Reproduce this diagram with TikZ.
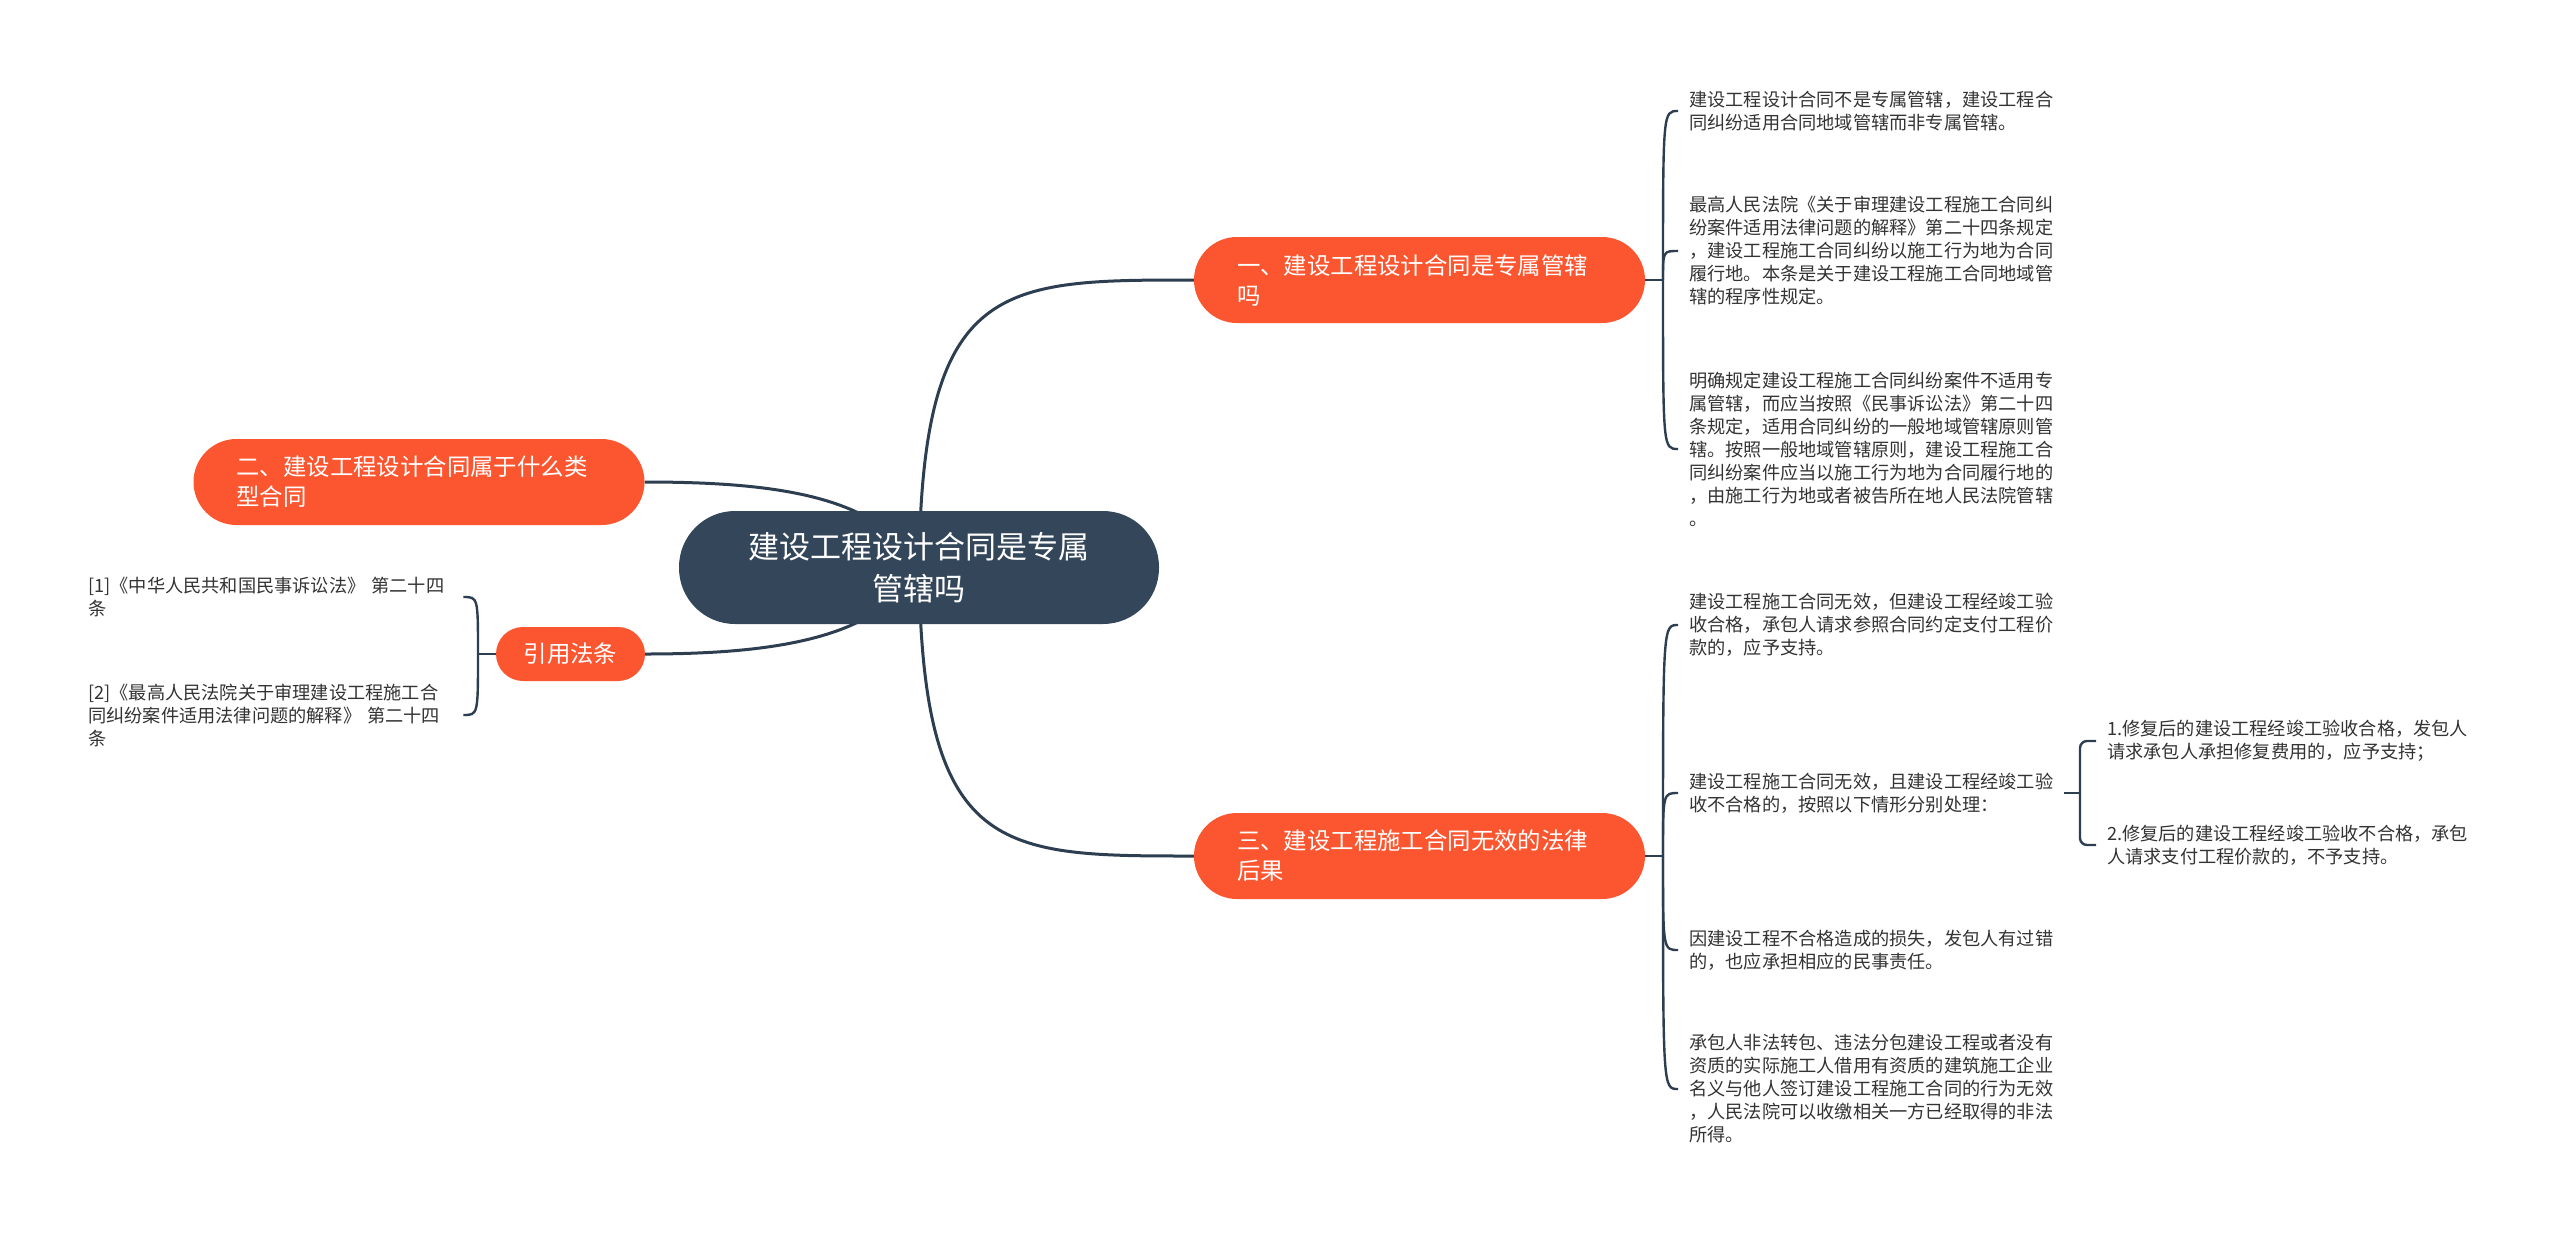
\documentclass[tikz,border=0pt]{standalone}
\usepackage{fontspec}
\setmainfont{Noto Sans CJK SC}
\definecolor{orn}{HTML}{FC5630}
\definecolor{dk}{HTML}{34475A}
\definecolor{ln}{HTML}{2C3E50}
\definecolor{tx}{HTML}{333333}
\pgfdeclarelayer{bg}
\pgfsetlayers{bg,main}
\begin{document}
\begin{tikzpicture}[x=1pt,y=-1pt,
  topic/.style={fill=orn, text=white, rounded corners=43pt, minimum height=86pt,
    text width=365pt, inner xsep=43pt, inner ysep=0pt, align=left,
    font=\fontsize{23.4}{30}\selectfont},
  rootnode/.style={fill=dk, text=white, rounded corners=56pt, minimum width=480pt,
    minimum height=113pt, align=center, font=\fontsize{31}{42}\selectfont},
  citenode/.style={fill=orn, text=white, rounded corners=27pt, minimum width=149pt,
    minimum height=54pt, inner sep=0pt, font=\fontsize{23.4}{30}\selectfont},
  leaf/.style={anchor=west, inner xsep=11pt, inner ysep=0pt, align=left, text=tx,
    font=\fontsize{18.2}{23}\selectfont},
  mainline/.style={draw=ln, line width=3pt},
  leafline/.style={draw=ln, line width=2.4pt}
]
\begin{pgfonlayer}{bg}
\fill[white] (0,0) rectangle (2560,1235);
\end{pgfonlayer}

\node[rootnode] (c) at (919,567.5) {建设工程设计合同是专属\\管辖吗};
\node[topic] (n1) at (1419.5,280) {一、建设工程设计合同是专属管辖\\吗};
\node[topic] (n2) at (419,482) {二、建设工程设计合同属于什么类\\型合同};
\node[topic] (n3) at (1419.5,856) {三、建设工程施工合同无效的法律\\后果};
\node[citenode] (r) at (570.5,654) {引用法条};

% group 1 leaves
\node[leaf] (t11) at (1678,111) {建设工程设计合同不是专属管辖，建设工程合\\同纠纷适用合同地域管辖而非专属管辖。};
\node[leaf] (t12) at (1678,251) {最高人民法院《关于审理建设工程施工合同纠\\纷案件适用法律问题的解释》第二十四条规定\\，建设工程施工合同纠纷以施工行为地为合同\\履行地。本条是关于建设工程施工合同地域管\\辖的程序性规定。};
\node[leaf] (t13) at (1678,449) {明确规定建设工程施工合同纠纷案件不适用专\\属管辖，而应当按照《民事诉讼法》第二十四\\条规定，适用合同纠纷的一般地域管辖原则管\\辖。按照一般地域管辖原则，建设工程施工合\\同纠纷案件应当以施工行为地为合同履行地的\\，由施工行为地或者被告所在地人民法院管辖\\。};

% group 3 leaves
\node[leaf] (t31) at (1678,625) {建设工程施工合同无效，但建设工程经竣工验\\收合格，承包人请求参照合同约定支付工程价\\款的，应予支持。};
\node[leaf] (t32) at (1678,793) {建设工程施工合同无效，且建设工程经竣工验\\收不合格的，按照以下情形分别处理：};
\node[leaf] (t33) at (1678,950) {因建设工程不合格造成的损失，发包人有过错\\的，也应承担相应的民事责任。};
\node[leaf] (t34) at (1678,1089) {承包人非法转包、违法分包建设工程或者没有\\资质的实际施工人借用有资质的建筑施工企业\\名义与他人签订建设工程施工合同的行为无效\\，人民法院可以收缴相关一方已经取得的非法\\所得。};

% sub leaves
\node[leaf] (s1) at (2096,741) {1.修复后的建设工程经竣工验收合格，发包人\\请求承包人承担修复费用的，应予支持；};
\node[leaf] (s2) at (2096,845) {2.修复后的建设工程经竣工验收不合格，承包\\人请求支付工程价款的，不予支持。};

% cite leaves
\node[leaf, text width=364pt] (q1) at (77,597) {[1]《中华人民共和国民事诉讼法》 第二十四\\条};
\node[leaf, text width=364pt] (q2) at (77,715) {[2]《最高人民法院关于审理建设工程施工合\\同纠纷案件适用法律问题的解释》 第二十四\\条};

% bracket coordinates
\coordinate (b1) at (1663,280);
\coordinate (b3) at (1663,856);
\coordinate (bq) at (478,654);
\coordinate (bs) at (2080,793);

\begin{pgfonlayer}{bg}
% main connectors
\draw[mainline] (c.center) .. controls (922,280) and (1000,280) .. (n1.west);
\draw[mainline] (c.center) .. controls (922,856) and (1000,856) .. (n3.west);
\draw[mainline] (n2.east) .. controls (780,482) and (880,497) .. (c.center);
\draw[mainline] (r.east) .. controls (780,654) and (880,637) .. (c.center);

% group 1
\draw[leafline] (n1.east) -- (b1);
\foreach \t in {t11,t12,t13}{
  \draw[leafline] (b1) .. controls (b1 |- \t.west) .. (\t.west);
}
% group 3
\draw[leafline] (n3.east) -- (b3);
\foreach \t in {t31,t32,t33,t34}{
  \draw[leafline] (b3) .. controls (b3 |- \t.west) .. (\t.west);
}
% sub bracket
\draw[leafline] (t32.east) -- (bs);
\draw[leafline, rounded corners=7pt] (bs) |- (s1.west);
\draw[leafline, rounded corners=7pt] (bs) |- (s2.west);
% cite bracket
\draw[leafline] (r.west) -- (bq);
\foreach \t in {q1,q2}{
  \draw[leafline] (bq) .. controls (bq |- \t.east) .. (\t.east);
}
\end{pgfonlayer}
\end{tikzpicture}
\end{document}
